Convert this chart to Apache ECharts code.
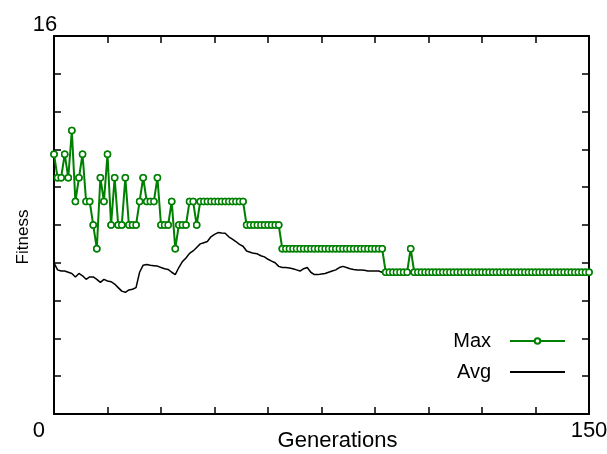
<!DOCTYPE html>
<html>
<head>
<meta charset="utf-8">
<title>Fitness</title>
<script src="https://cdn.jsdelivr.net/npm/echarts@6/dist/echarts.min.js"></script>
<style>
  html, body { margin: 0; padding: 0; background: #fff; }
  #chart { width: 607px; height: 454px; }
</style>
</head>
<body>
<div id="chart"></div>
<script>
// best fitness per generation (0..150)
var maxFitness = [
  11, 10, 10, 11, 10, 12, 9, 10, 11, 9,
  9, 8, 7, 10, 9, 11, 8, 10, 8, 8,
  10, 8, 8, 8, 9, 10, 9, 9, 9, 10,
  8, 8, 8, 9, 7, 8, 8, 8, 9, 9,
  8, 9, 9, 9, 9, 9, 9, 9, 9, 9,
  9, 9, 9, 9, 8, 8, 8, 8, 8, 8,
  8, 8, 8, 8, 7, 7, 7, 7, 7, 7,
  7, 7, 7, 7, 7, 7, 7, 7, 7, 7,
  7, 7, 7, 7, 7, 7, 7, 7, 7, 7,
  7, 7, 7, 6, 6, 6, 6, 6, 6, 6,
  7, 6, 6, 6, 6, 6, 6, 6, 6, 6,
  6, 6, 6, 6, 6, 6, 6, 6, 6, 6,
  6, 6, 6, 6, 6, 6, 6, 6, 6, 6,
  6, 6, 6, 6, 6, 6, 6, 6, 6, 6,
  6, 6, 6, 6, 6, 6, 6, 6, 6, 6,
  6
];

// average fitness per generation (0..150)
var avgFitness = [
  6.4, 6.1, 6.05, 6.05, 6.0, 5.95, 5.8, 5.95, 5.85, 5.7,
  5.8, 5.8, 5.7, 5.57, 5.7, 5.63, 5.6, 5.5, 5.35, 5.2,
  5.15, 5.25, 5.28, 5.35, 6.0, 6.3, 6.33, 6.3, 6.28, 6.26,
  6.2, 6.15, 6.12, 6.0, 5.9, 6.2, 6.45, 6.6, 6.8, 6.9,
  7.05, 7.2, 7.25, 7.3, 7.5, 7.6, 7.68, 7.66, 7.65, 7.5,
  7.4, 7.3, 7.18, 7.1, 6.9, 6.85, 6.8, 6.78, 6.7, 6.65,
  6.55, 6.47, 6.4, 6.25, 6.2, 6.2, 6.18, 6.15, 6.1, 6.05,
  6.15, 6.2, 6.0, 5.9, 5.9, 5.93, 5.95, 6.0, 6.05, 6.1,
  6.2, 6.25, 6.2, 6.15, 6.12, 6.1, 6.1, 6.08, 6.05, 6.05,
  6.05, 6.05, 6.0, 6.0, 6.0, 6.0, 6.0, 6.0, 6.0, 6.0,
  6.0, 6.0, 6.0, 6.0, 6.0, 6.0, 6.0, 6.0, 6.0, 6.0,
  6.0, 6.0, 6.0, 6.0, 6.0, 6.0, 6.0, 6.0, 6.0, 6.0,
  6.0, 6.0, 6.0, 6.0, 6.0, 6.0, 6.0, 6.0, 6.0, 6.0,
  6.0, 6.0, 6.0, 6.0, 6.0, 6.0, 6.0, 6.0, 6.0, 6.0,
  6.0, 6.0, 6.0, 6.0, 6.0, 6.0, 6.0, 6.0, 6.0, 6.0,
  6.0
];

var xShownTicks = [0, 150];
var yShownTicks = [16];

var font = 'Liberation Sans, Arial, sans-serif';
var green = '#008000';

function toPoints (arr) {
  return arr.map(function (v, i) { return [i, v]; });
}
var maxPts = toPoints(maxFitness);
var avgPts = toPoints(avgFitness);

var chart = echarts.init(document.getElementById('chart'), null, {renderer: 'canvas'});

var frameLine = {onZero: false, lineStyle: {color: '#000', width: 2}};
var frameTick = {inside: true, length: 7, lineStyle: {color: '#000', width: 1.5}};

var option = {};
option.animation = false;
option.backgroundColor = '#fff';
option.grid = {left: 54, right: 18, top: 36, bottom: 40, outerBoundsMode: 'none'};
option.legend = {
  orient: 'vertical',
  right: 36,
  top: 326,
  align: 'right',
  itemWidth: 55,
  itemHeight: 7,
  itemGap: 11,
  selectedMode: false,
  textStyle: {fontSize: 20, color: '#000', fontFamily: font, padding: [0, 14, 0, 0]},
  data: ['Max', {name: 'Avg', itemStyle: {opacity: 0}}]
};
option.xAxis = [
  {
    type: 'value', min: 0, max: 150, interval: 15, position: 'bottom',
    axisLine: frameLine, axisTick: frameTick, splitLine: {show: false},
    axisLabel: {
      margin: 6, fontSize: 22, color: '#000', fontFamily: font,
      alignMinLabel: 'right',
      formatter: function (v) {
        if (xShownTicks.indexOf(v) < 0) return '';
        return v === 0 ? '{z|0}' : String(v);
      },
      rich: {z: {fontSize: 22, color: '#000', fontFamily: font, padding: [0, 9, 0, 0]}}
    },
    name: 'Generations', nameLocation: 'middle', nameGap: 16, nameMoveOverlap: false,
    nameTextStyle: {fontSize: 22, color: '#000', fontFamily: font, padding: [0, 0, 0, 32]}
  },
  {
    type: 'value', min: 0, max: 150, interval: 15, position: 'top',
    axisLine: frameLine, axisTick: frameTick, splitLine: {show: false},
    axisLabel: {show: false}
  }
];
option.yAxis = [
  {
    type: 'value', min: 0, max: 16, interval: 1.6, position: 'left',
    axisLine: frameLine, axisTick: frameTick, splitLine: {show: false},
    axisLabel: {
      margin: 9, fontSize: 22, color: '#000', fontFamily: font,
      align: 'center', verticalAlign: 'bottom',
      formatter: function (v) {
        for (var i = 0; i < yShownTicks.length; i++) {
          if (Math.abs(v - yShownTicks[i]) < 1e-6) return String(yShownTicks[i]);
        }
        return '';
      }
    },
    name: 'Fitness', nameLocation: 'middle', nameGap: 22, nameRotate: 90, nameMoveOverlap: false,
    nameTextStyle: {fontSize: 17, color: '#000', fontFamily: font, padding: [0, 24, 0, 0]}
  },
  {
    type: 'value', min: 0, max: 16, interval: 1.6, position: 'right',
    axisLine: frameLine, axisTick: frameTick, splitLine: {show: false},
    axisLabel: {show: false}
  }
];
option.series = [
  {
    name: 'Max', type: 'line', data: maxPts, z: 2,
    color: green,
    lineStyle: {color: green, width: 2},
    symbol: 'circle', symbolSize: 6, showAllSymbol: true,
    itemStyle: {color: '#fff', borderColor: green, borderWidth: 1.5}
  },
  {
    name: 'Avg', type: 'line', data: avgPts, z: 3,
    color: '#000',
    lineStyle: {color: '#000', width: 1.5},
    symbol: 'none'
  },
  {
    // markers of Max drawn over the Avg line
    name: 'Max', type: 'line', data: maxPts, z: 4, silent: true,
    lineStyle: {width: 0, opacity: 0},
    symbol: 'circle', symbolSize: 6, showAllSymbol: true,
    itemStyle: {color: '#fff', borderColor: green, borderWidth: 1.5}
  }
];
chart.setOption(option);
</script>
</body>
</html>
